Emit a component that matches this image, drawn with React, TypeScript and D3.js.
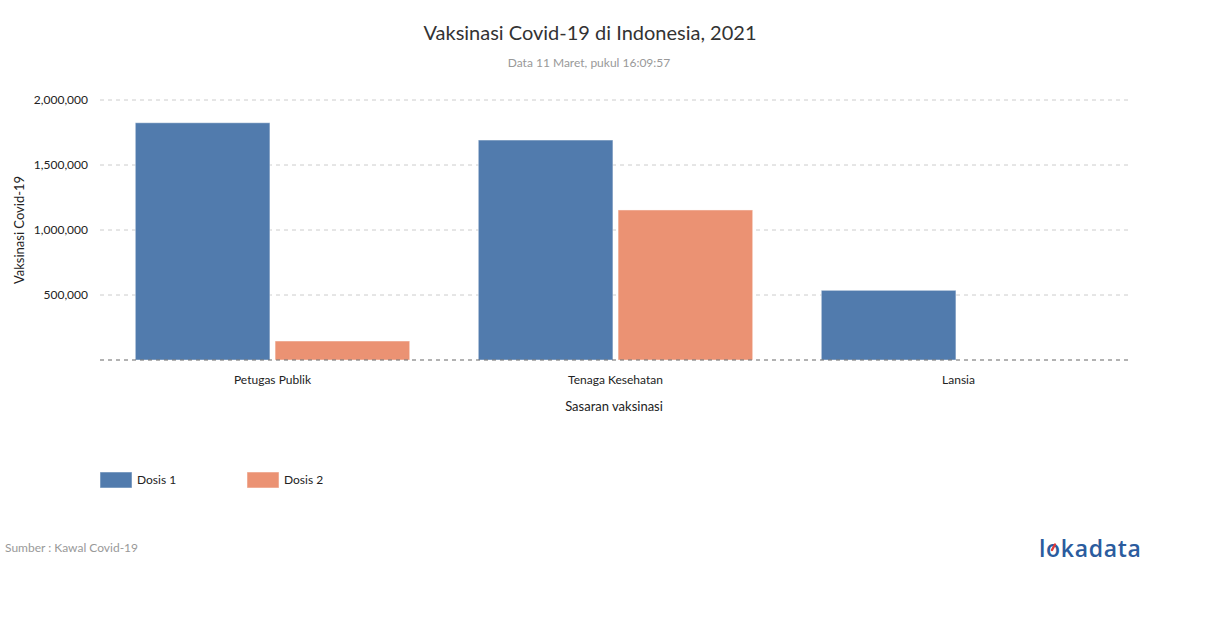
import React from "react";
import * as d3 from "d3";

const categories = ["Petugas Publik", "Tenaga Kesehatan", "Lansia"];
const seriesNames = ["Dosis 1", "Dosis 2"];
const dosis1 = [1825000, 1692000, 536000];
const dosis2 = [146000, 1154000, 0];
const yTicks = [500000, 1000000, 1500000, 2000000];
const colors = ["#517bad", "#eb9273"];

const W = 1210;
const H = 628;
const FONT = "Lato, 'Open Sans', sans-serif";

export default function App() {
  const left = 100;
  const right = 1128;
  const top = 100;
  const bottom = 360;

  const x0 = d3.scaleBand<string>().domain(categories).range([101, 1130]).paddingInner(0.2).paddingOuter(0.1);
  const x1 = d3.scaleBand<string>().domain(seriesNames).range([0, x0.bandwidth()]).paddingInner(0.037);
  const y = d3.scaleLinear().domain([0, 2000000]).range([bottom, top]);
  const fmt = d3.format(",");
  const values = [dosis1, dosis2];

  return (
    <svg width={W} height={H} style={{ display: "block", position: "absolute", left: 0, top: 0 }} fontFamily={FONT}>
      <rect width={W} height={H} fill="#fff" />
      <text x={590} y={40} textAnchor="middle" fontSize={20} fill="#333">
        Vaksinasi Covid-19 di Indonesia, 2021
      </text>
      <text x={589} y={67} textAnchor="middle" fontSize={12} fill="#999">
        Data 11 Maret, pukul 16:09:57
      </text>

      {yTicks.map((t) => (
        <g key={t}>
          <line x1={left} x2={right} y1={y(t)} y2={y(t)} stroke="#ccc" strokeDasharray="4,4" />
          <text x={88} y={y(t)} dy="0.35em" textAnchor="end" fontSize={12} fill="#222">
            {fmt(t)}
          </text>
        </g>
      ))}

      {categories.map((c, i) => (
        <g key={c}>
          {seriesNames.map((s, j) => {
            const v = values[j][i];
            if (!v) return null;
            const bx = (x0(c) as number) + (x1(s) as number);
            return (
              <rect
                key={s}
                x={bx}
                y={y(v)}
                width={x1.bandwidth()}
                height={y(0) - y(v)}
                fill={colors[j]}
                stroke="rgba(255,255,255,0.45)"
                strokeWidth={1}
              />
            );
          })}
          <text x={(x0(c) as number) + x0.bandwidth() / 2} y={384} textAnchor="middle" fontSize={12} fill="#222">
            {c}
          </text>
        </g>
      ))}

      <line x1={left} x2={right} y1={y(0)} y2={y(0)} stroke="#666" strokeDasharray="4,4" />

      <text transform={`translate(24,${(top + bottom) / 2}) rotate(-90)`} textAnchor="middle" fontSize={13} fill="#222">
        Vaksinasi Covid-19
      </text>
      <text x={(left + right) / 2} y={411} textAnchor="middle" fontSize={13} fill="#222">
        Sasaran vaksinasi
      </text>

      {seriesNames.map((s, j) => (
        <g key={s} transform={`translate(${100 + j * 147},472)`}>
          <rect width={32} height={16} fill={colors[j]} stroke="rgba(255,255,255,0.5)" />
          <text x={37} y={8} dy="0.35em" fontSize={12} fill="#222">
            {s}
          </text>
        </g>
      ))}

      <text x={5} y={552} fontSize={12} fill="#999">
        Sumber : Kawal Covid-19
      </text>

      <g>
        <text x={1039} y={557} fontSize={23} fill="#2b5c9e" fontFamily="'Open Sans', Lato, sans-serif" fontWeight={600} letterSpacing={0.7}>
          lokadata
        </text>
        <line x1={1055} y1={544.5} x2={1052} y2={550} stroke="#e03a3a" strokeWidth={2.4} strokeLinecap="round" />
      </g>
    </svg>
  );
}
